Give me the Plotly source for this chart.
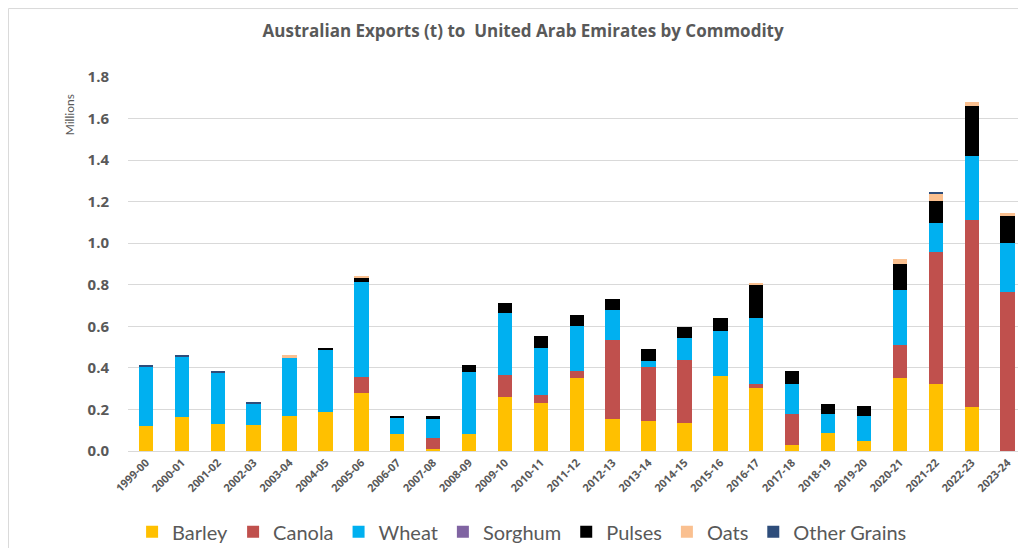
import plotly.graph_objects as go

years = ["1999-00","2000-01","2001-02","2002-03","2003-04","2004-05","2005-06","2006-07",
         "2007-08","2008-09","2009-10","2010-11","2011-12","2012-13","2013-14","2014-15",
         "2015-16","2016-17","2017-18","2018-19","2019-20","2020-21","2021-22","2022-23","2023-24"]

# values in millions of tonnes
barley = [0.119,0.162,0.129,0.124,0.169,0.188,0.280,0.080,0.010,0.080,0.260,0.233,0.349,
          0.153,0.143,0.133,0.363,0.304,0.027,0.085,0.048,0.350,0.321,0.212,0.0]
canola = [0,0,0,0,0,0,0.075,0,0.054,0,0.108,0.035,0.034,0.382,0.260,0.303,0,0.019,0.153,
          0,0,0.159,0.638,0.899,0.767]
wheat = [0.286,0.294,0.247,0.104,0.283,0.301,0.458,0.081,0.090,0.298,0.294,0.229,0.217,
         0.143,0.031,0.109,0.214,0.315,0.141,0.092,0.121,0.264,0.137,0.307,0.236]
sorghum = [0,0,0,0,0,0,0,0,0,0,0,0,0,0,0,0,0,0,0,0,0,0,0,0,0]
pulses = [0,0,0,0,0,0.009,0.021,0.008,0.016,0.035,0.048,0.056,0.056,0.055,0.059,0.051,
          0.064,0.161,0.062,0.051,0.048,0.125,0.109,0.242,0.128]
oats = [0,0,0,0,0.009,0,0.008,0,0,0,0,0,0,0,0,0,0,0.005,0,0,0,0.026,0.036,0.018,0.015]
other = [0.005,0.007,0.008,0.007,0,0,0,0,0,0,0,0,0,0,0,0,0,0,0,0,0,0,0.003,0,0]

series = [("Barley", barley, "#FFC000"), ("Canola", canola, "#C0504D"),
          ("Wheat", wheat, "#00B0F0"), ("Sorghum", sorghum, "#8064A2"),
          ("Pulses", pulses, "#000000"), ("Oats", oats, "#FAC090"),
          ("Other Grains", other, "#2E4D7B")]

fig = go.Figure()
for name, vals, col in series:
    fig.add_trace(go.Bar(x=years, y=vals, name=name, marker=dict(color=col, line=dict(width=0))))

grey = "#595959"
fig.update_layout(
    barmode="stack", bargap=0.6,
    width=1010, height=540,
    margin=dict(l=120, r=0, t=69, b=97, autoexpand=False),
    paper_bgcolor="white", plot_bgcolor="white",
    font=dict(family="Lato, 'Open Sans', sans-serif", color=grey),
    title=dict(text="<b>Australian Exports (t) to  United Arab Emirates by Commodity</b>",
               xref="container", yref="container",
               x=0.51, xanchor="center", y=0.957, yanchor="middle",
               font=dict(size=17, color=grey, family="'Open Sans', sans-serif")),
    legend=dict(orientation="h", xref="container", yref="container",
                x=0.509, xanchor="center", y=0.03, yanchor="middle",
                font=dict(size=20, color=grey), traceorder="normal",
                itemwidth=30, tracegroupgap=0),
    showlegend=True,
)
fig.update_xaxes(type="category", tickangle=-45, showgrid=False, ticks="",
                 showline=True, linecolor="#D9D9D9", linewidth=1,
                 tickfont=dict(size=11, color=grey, family="'Open Sans', sans-serif", weight="bold"),
                 range=[-0.5, 24.29])
fig.update_yaxes(range=[0, 1.8], dtick=0.2, tickformat=".1f", showgrid=True,
                 gridcolor="#D9D9D9", gridwidth=1, zeroline=False, ticks="",
                 tickfont=dict(size=15, color=grey, family="'Open Sans', sans-serif", weight="bold"),
                 ticklabelstandoff=18)
fig.add_annotation(text="Millions", xref="paper", yref="paper", x=-0.076, y=0.96,
                   textangle=-90, showarrow=False, font=dict(size=12, color=grey))
fig.add_shape(type="rect", xref="paper", yref="paper",
              x0=-0.1343, x1=1.05, y0=-0.3, y1=1.183,
              line=dict(color="#D9D9D9", width=1))
fig.write_html("out.html")
